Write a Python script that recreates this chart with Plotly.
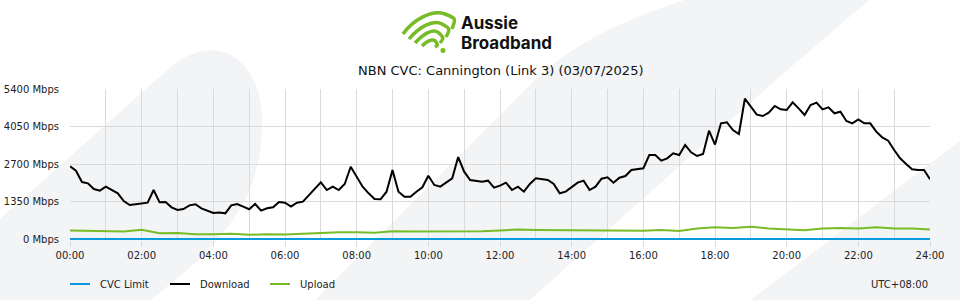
import pandas as pd
import plotly.graph_objects as go

# ---------------- data ----------------
title_text = "NBN CVC: Cannington (Link 3) (03/07/2025)"
series_names = ["CVC Limit", "Download", "Upload"]

download_times = pd.date_range("2025-07-03 00:00", "2025-07-04 00:00", freq="10min")
download_mbps = [
    2620, 2460, 2052, 2004, 1800, 1740, 1884, 1776, 1644, 1368, 1224, 1250,
    1284, 1308, 1764, 1320, 1332, 1140, 1044, 1080, 1212, 1250, 1104, 1032,
    936, 950, 924, 1212, 1260, 1164, 1070, 1260, 1020, 1104, 1140, 1332,
    1308, 1164, 1308, 1344, 1584, 1824, 2040, 1764, 1884, 1764, 1980, 2600,
    2244, 1884, 1644, 1440, 1428, 1704, 2480, 1704, 1524, 1524, 1704, 1860,
    2280, 1944, 1884, 2028, 2184, 2950, 2424, 2124, 2100, 2064, 2100, 1848,
    1920, 2028, 1764, 1884, 1704, 1980, 2184, 2148, 2124, 1980, 1644, 1704,
    1860, 2028, 2100, 1764, 1884, 2172, 2220, 2028, 2208, 2268, 2484, 2508,
    2544, 3024, 3024, 2820, 2904, 3084, 3024, 3384, 3120, 2988, 3060, 3900,
    3400, 4164, 4200, 3924, 3780, 5050, 4764, 4476, 4428, 4548, 4788, 4668,
    4644, 4920, 4704, 4464, 4824, 4908, 4668, 4740, 4524, 4584, 4248, 4164,
    4308, 4164, 4164, 3864, 3660, 3540, 3204, 2904, 2700, 2508, 2484, 2484,
    2148,
]

upload_times = pd.date_range("2025-07-03 00:00", "2025-07-04 00:00", freq="30min")
upload_mbps = [
    306, 290, 280, 270, 330, 210, 220, 175, 170, 186, 150, 170,
    160, 200, 215, 240, 246, 222, 282, 270, 270, 280, 290, 282,
    310, 340, 325, 318, 318, 310, 318, 315, 300, 320, 290, 378,
    420, 400, 438, 380, 340, 318, 378, 400, 378, 420, 378, 378,
    342,
]

cvc_times = ["2025-07-03 00:00", "2025-07-04 00:00"]
cvc_limit_mbps = [0, 0]

x_tick_vals = pd.date_range("2025-07-03 00:00", "2025-07-04 00:00", freq="2h")
x_tick_text = ["00:00", "02:00", "04:00", "06:00", "08:00", "10:00", "12:00",
               "14:00", "16:00", "18:00", "20:00", "22:00", "24:00"]
y_tick_vals = [0, 1350, 2700, 4050, 5400]
y_tick_text = ["0 Mbps", "1350 Mbps", "2700 Mbps", "4050 Mbps", "5400 Mbps"]
timezone_text = "UTC+08:00"

# ---------------- styling ----------------
FONT = "DejaVu Sans"
BLUE = "#0a9bdc"
GREEN = "#77bc26"
BG_GRAY = "#f3f4f6"
GRID = "#dadada"
series_colors = [BLUE, "#000000", GREEN]

W, H = 960, 300
ML, MR, MT, MB = 70, 30, 89, 60
PW, PH = W - ML - MR, H - MT - MB


def px(x):
    return (x - ML) / PW


def py(y):
    return (H - MB - y) / PH


def P(x, y):
    """pixel -> paper coords (decoration only)"""
    return f"{px(x):.4f},{py(y):.4f}"


fig = go.Figure()
fig.add_trace(go.Scatter(x=cvc_times, y=cvc_limit_mbps, name=series_names[0],
                         mode="lines", line=dict(color=series_colors[0], width=2.2)))
fig.add_trace(go.Scatter(x=download_times, y=download_mbps, name=series_names[1],
                         mode="lines", line=dict(color=series_colors[1], width=2)))
fig.add_trace(go.Scatter(x=upload_times, y=upload_mbps, name=series_names[2],
                         mode="lines", line=dict(color=series_colors[2], width=2)))

shapes = []
# background decorations
shapes.append(dict(type="path", xref="paper", yref="paper", layer="below",
                   line=dict(width=0), fillcolor=BG_GRAY,
                   path=f"M {P(-10,228)} L {P(165,72)} C {P(215,25)} {P(262,60)} {P(262,120)} "
                        f"C {P(262,180)} {P(245,230)} {P(150,300)} L {P(-10,300)} Z"))
shapes.append(dict(type="path", xref="paper", yref="paper", layer="below",
                   line=dict(width=0), fillcolor=BG_GRAY,
                   path=f"M {P(315,300)} L {P(530,85)} C {P(570,45)} {P(620,20)} {P(700,-5)} "
                        f"L {P(875,-5)} L {P(770,85)} L {P(530,300)} Z"))
shapes.append(dict(type="path", xref="paper", yref="paper", layer="below",
                   line=dict(width=0), fillcolor=BG_GRAY,
                   path=f"M {P(965,137)} L {P(748,302)} L {P(965,302)} Z"))

# logo swirl (decoration)
arcs = [
    [(403, 34), (413, 20), (432, 9), (445, 14), (455, 19), (452, 29)],
    [(409, 39), (419, 27), (433, 19), (442, 24), (450, 29), (446, 37)],
    [(415, 43), (424, 33), (434, 28), (439, 33), (444, 38), (440, 43)],
    [(422, 46), (428, 40), (434, 38), (436, 42), (438, 45), (435, 47)],
]
for a in arcs:
    path = f"M {P(*a[0])} C {P(*a[1])} {P(*a[2])} {P(*a[3])} S {P(*a[4])} {P(*a[5])}"
    shapes.append(dict(type="path", xref="paper", yref="paper", layer="above",
                       line=dict(color=GREEN, width=3.5), path=path))
shapes.append(dict(type="circle", xref="paper", yref="paper", layer="above",
                   line=dict(width=0), fillcolor=GREEN,
                   x0=px(440.5), x1=px(445.5), y0=py(53), y1=py(48)))

# manual legend markers
legend_x = [70, 170, 270]
legend_y = 284
for lx, c in zip(legend_x, series_colors):
    shapes.append(dict(type="line", xref="paper", yref="paper", layer="above",
                       x0=px(lx), x1=px(lx + 20), y0=py(legend_y), y1=py(legend_y),
                       line=dict(color=c, width=2)))

annotations = [
    dict(text="<b>Aussie</b>", x=px(460), y=py(23), xref="paper", yref="paper",
         xanchor="left", yanchor="middle", showarrow=False, borderpad=0,
         font=dict(family="Inter", size=17, color="#111111")),
    dict(text="<b>Broadband</b>", x=px(460), y=py(43.5), xref="paper", yref="paper",
         xanchor="left", yanchor="middle", showarrow=False, borderpad=0,
         font=dict(family="Inter", size=17, color="#111111")),
    dict(text=title_text, x=0.5, y=py(70), xref="paper", yref="paper",
         xanchor="center", yanchor="middle", showarrow=False,
         font=dict(family=FONT, size=13, color="#111111")),
    dict(text=timezone_text, x=1, y=py(legend_y), xref="paper", yref="paper",
         xanchor="right", yanchor="middle", showarrow=False,
         font=dict(family=FONT, size=10, color="#222222")),
]
for lx, name in zip(legend_x, series_names):
    annotations.append(dict(text=name, x=px(lx + 28), y=py(legend_y), xref="paper", yref="paper",
                            xanchor="left", yanchor="middle", showarrow=False,
                            font=dict(family=FONT, size=10, color="#222222")))

fig.update_layout(
    width=W, height=H,
    margin=dict(l=ML, r=MR, t=MT, b=MB, pad=0, autoexpand=False),
    paper_bgcolor="#ffffff",
    plot_bgcolor="rgba(0,0,0,0)",
    font=dict(family=FONT, size=10, color="#222222"),
    shapes=shapes,
    annotations=annotations,
    showlegend=False,
    xaxis=dict(
        range=["2025-07-03 00:00", "2025-07-04 00:00"],
        tickmode="array", tickvals=x_tick_vals, ticktext=x_tick_text,
        showgrid=True, gridcolor=GRID, gridwidth=1,
        ticks="outside", ticklen=6, tickcolor=GRID,
        minor=dict(tickmode="linear", tick0="2025-07-03 00:00", dtick=3600000,
                   showgrid=True, gridcolor=GRID, gridwidth=1, ticks=""),
        zeroline=False, showline=False, automargin=False,
        tickfont=dict(family=FONT, size=10, color="#222222"),
        fixedrange=True,
    ),
    yaxis=dict(
        range=[-36, 5400],
        tickmode="array", tickvals=y_tick_vals, ticktext=y_tick_text,
        showgrid=True, gridcolor=GRID, gridwidth=1,
        zeroline=False, showline=False, ticks="", ticklabelstandoff=10,
        automargin=False,
        tickfont=dict(family=FONT, size=10, color="#222222"),
        fixedrange=True,
    ),
)

fig.write_html("out.html")
